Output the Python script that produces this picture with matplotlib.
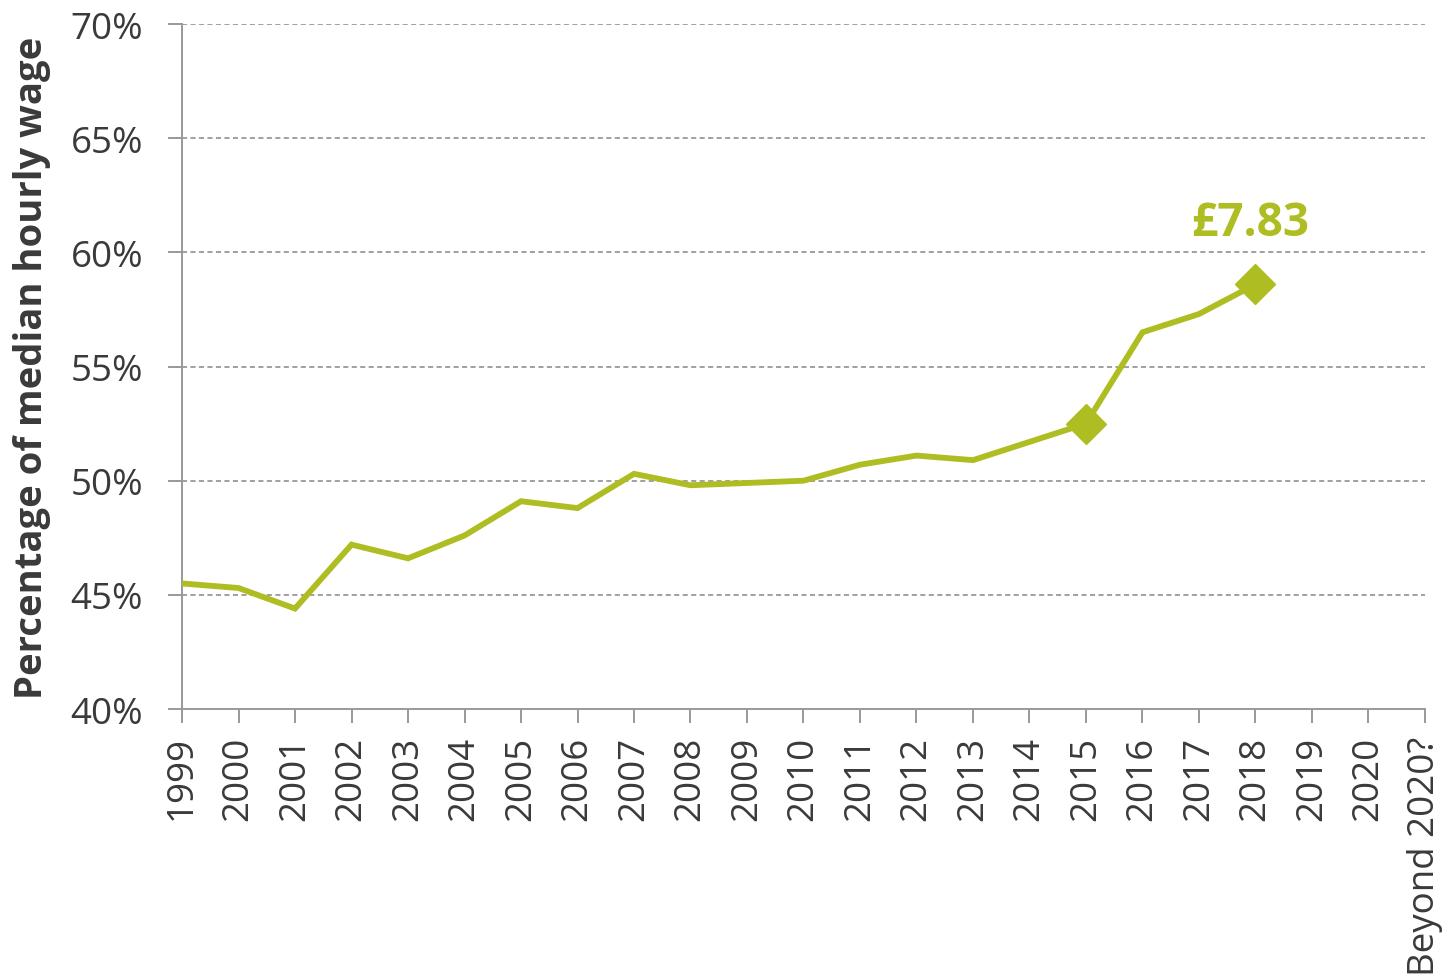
import numpy as np
import matplotlib.pyplot as plt

plt.rcParams['font.family'] = ['Open Sans', 'DejaVu Sans']

# Categories on the x axis
years = ['1999', '2000', '2001', '2002', '2003', '2004', '2005', '2006',
         '2007', '2008', '2009', '2010', '2011', '2012', '2013', '2014',
         '2015', '2016', '2017', '2018', '2019', '2020', 'Beyond 2020?']

# Minimum wage as percentage of median hourly wage (1999-2018)
pct = [45.5, 45.3, 44.4, 47.2, 46.6, 47.6, 49.1, 48.8, 50.3, 49.8,
       49.9, 50.0, 50.7, 51.1, 50.9, 51.7, 52.5, 56.5, 57.3, 58.6]

# Highlighted years and label
marked_years = ['2015', '2018']
label_text = '£7.83'

y_ticks = [40, 45, 50, 55, 60, 65, 70]

green = '#AEBD22'
grey = '#999999'
text_col = '#3a3a3a'

fig = plt.figure(figsize=(14.48, 9.78), dpi=100)
ax = fig.add_axes([0.1257, 0.274, 0.8584, 0.7004])

x = np.arange(len(pct))
ax.plot(x, pct, color=green, linewidth=4.2, solid_joinstyle='miter', zorder=3)

# Diamond markers
mi = [years.index(y) for y in marked_years]
ax.plot(mi, [pct[i] for i in mi], 'D', color=green, markersize=20, zorder=4)

# Label above last marker
last = mi[-1]
ax.text(last - 0.1, 60.75, label_text, color=green, fontsize=33,
        fontweight='bold', ha='center', va='baseline')

ax.set_xlim(0, len(years) - 1)
ax.set_ylim(40, 70)
ax.set_xticks(np.arange(len(years)))
ax.set_xticklabels(years, rotation=90, fontsize=26.5, color=text_col)
ax.set_yticks(y_ticks)
ax.set_yticklabels([f'{v}%' for v in y_ticks], fontsize=26.5, color=text_col)

# Dashed gridlines
for v in y_ticks[1:]:
    ax.axhline(v, color=grey, linestyle=(0, (2.8, 1.9)), linewidth=1.3, zorder=1)

for s in ['top', 'right']:
    ax.spines[s].set_visible(False)
for s in ['left', 'bottom']:
    ax.spines[s].set_color(grey)
    ax.spines[s].set_linewidth(1.4)

ax.tick_params(axis='both', length=10, width=1.4, color=grey)
ax.tick_params(axis='y', pad=18)
ax.tick_params(axis='x', pad=9)

ax.set_ylabel('Percentage of median hourly wage', fontsize=27.5,
              fontweight='bold', color=text_col, labelpad=14)

fig.savefig('out.png', dpi=100)
